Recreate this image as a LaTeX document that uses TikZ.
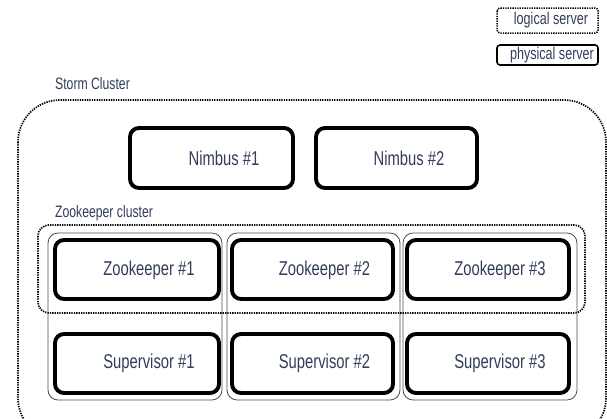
\documentclass[tikz,border=0pt]{standalone}
\usepackage{fontspec}
\setmainfont{Liberation Sans}[FakeStretch=0.74]
\definecolor{txt}{HTML}{333C5A}
\tikzset{
  thick box/.style={draw=black, line width=3.9pt, rounded corners=9pt, fill=white},
  big text/.style={text=txt, font=\fontsize{20}{22}\selectfont, inner sep=0pt},
  col box/.style={draw=black!70, line width=0.8pt, rounded corners=10pt},
  dot line/.style={draw=black, line width=1.7pt, dash pattern=on 1.3pt off 1.1pt},
  lbl/.style={text=txt, anchor=west, inner sep=0pt, font=\fontsize{16.5}{18}\selectfont},
  legend text/.style={text=txt, font=\fontsize{17}{19}\selectfont, inner sep=0pt},
}
\begin{document}
\begin{tikzpicture}[x=1pt,y=-1pt]
\useasboundingbox (0,0) rectangle (607,418);
\clip (0,0) rectangle (607,418);
% legend
\draw[dot line, line width=1.5pt, rounded corners=3pt] (497,8) rectangle (598,33);
\node[legend text] (lg1) at (551,20.5) {logical server};
\draw[line width=1.6pt, rounded corners=3pt] (497,45) rectangle (598,65);
\node[legend text] (lg2) at (552,55) {physical server};
% storm cluster
\node[lbl] (stormlbl) at (55,84) {Storm Cluster};
\draw[dot line, rounded corners=42pt] (18,100) rectangle (606,440);
% nimbus
\draw[thick box] (130,128) rectangle (293,188);
\node[big text] (n1) at (224,158) {Nimbus \#1};
\draw[thick box] (316,128) rectangle (477,188);
\node[big text] (n2) at (409,158) {Nimbus \#2};
% zookeeper cluster
\node[lbl] (zklbl) at (55,213) {Zookeeper cluster};
% columns
\draw[col box] (48,233) rectangle (222,400);
\draw[col box] (227,233) rectangle (400,400);
\draw[col box] (403,233) rectangle (577,400);
\draw[dot line, rounded corners=11pt] (38,225) rectangle (585,313);
% boxes
\foreach \i/\xa/\xb in {1/55/219, 2/232/393, 3/407/569}{
  \draw[thick box] (\xa,240) rectangle (\xb,299);
  \node[big text] (zk\i) at ({(\xa+\xb)/2+12},270) {Zookeeper \#\i};
  \draw[thick box] (\xa,334) rectangle (\xb,393);
  \node[big text] (sv\i) at ({(\xa+\xb)/2+12},363) {Supervisor \#\i};
}
\end{tikzpicture}
\end{document}
